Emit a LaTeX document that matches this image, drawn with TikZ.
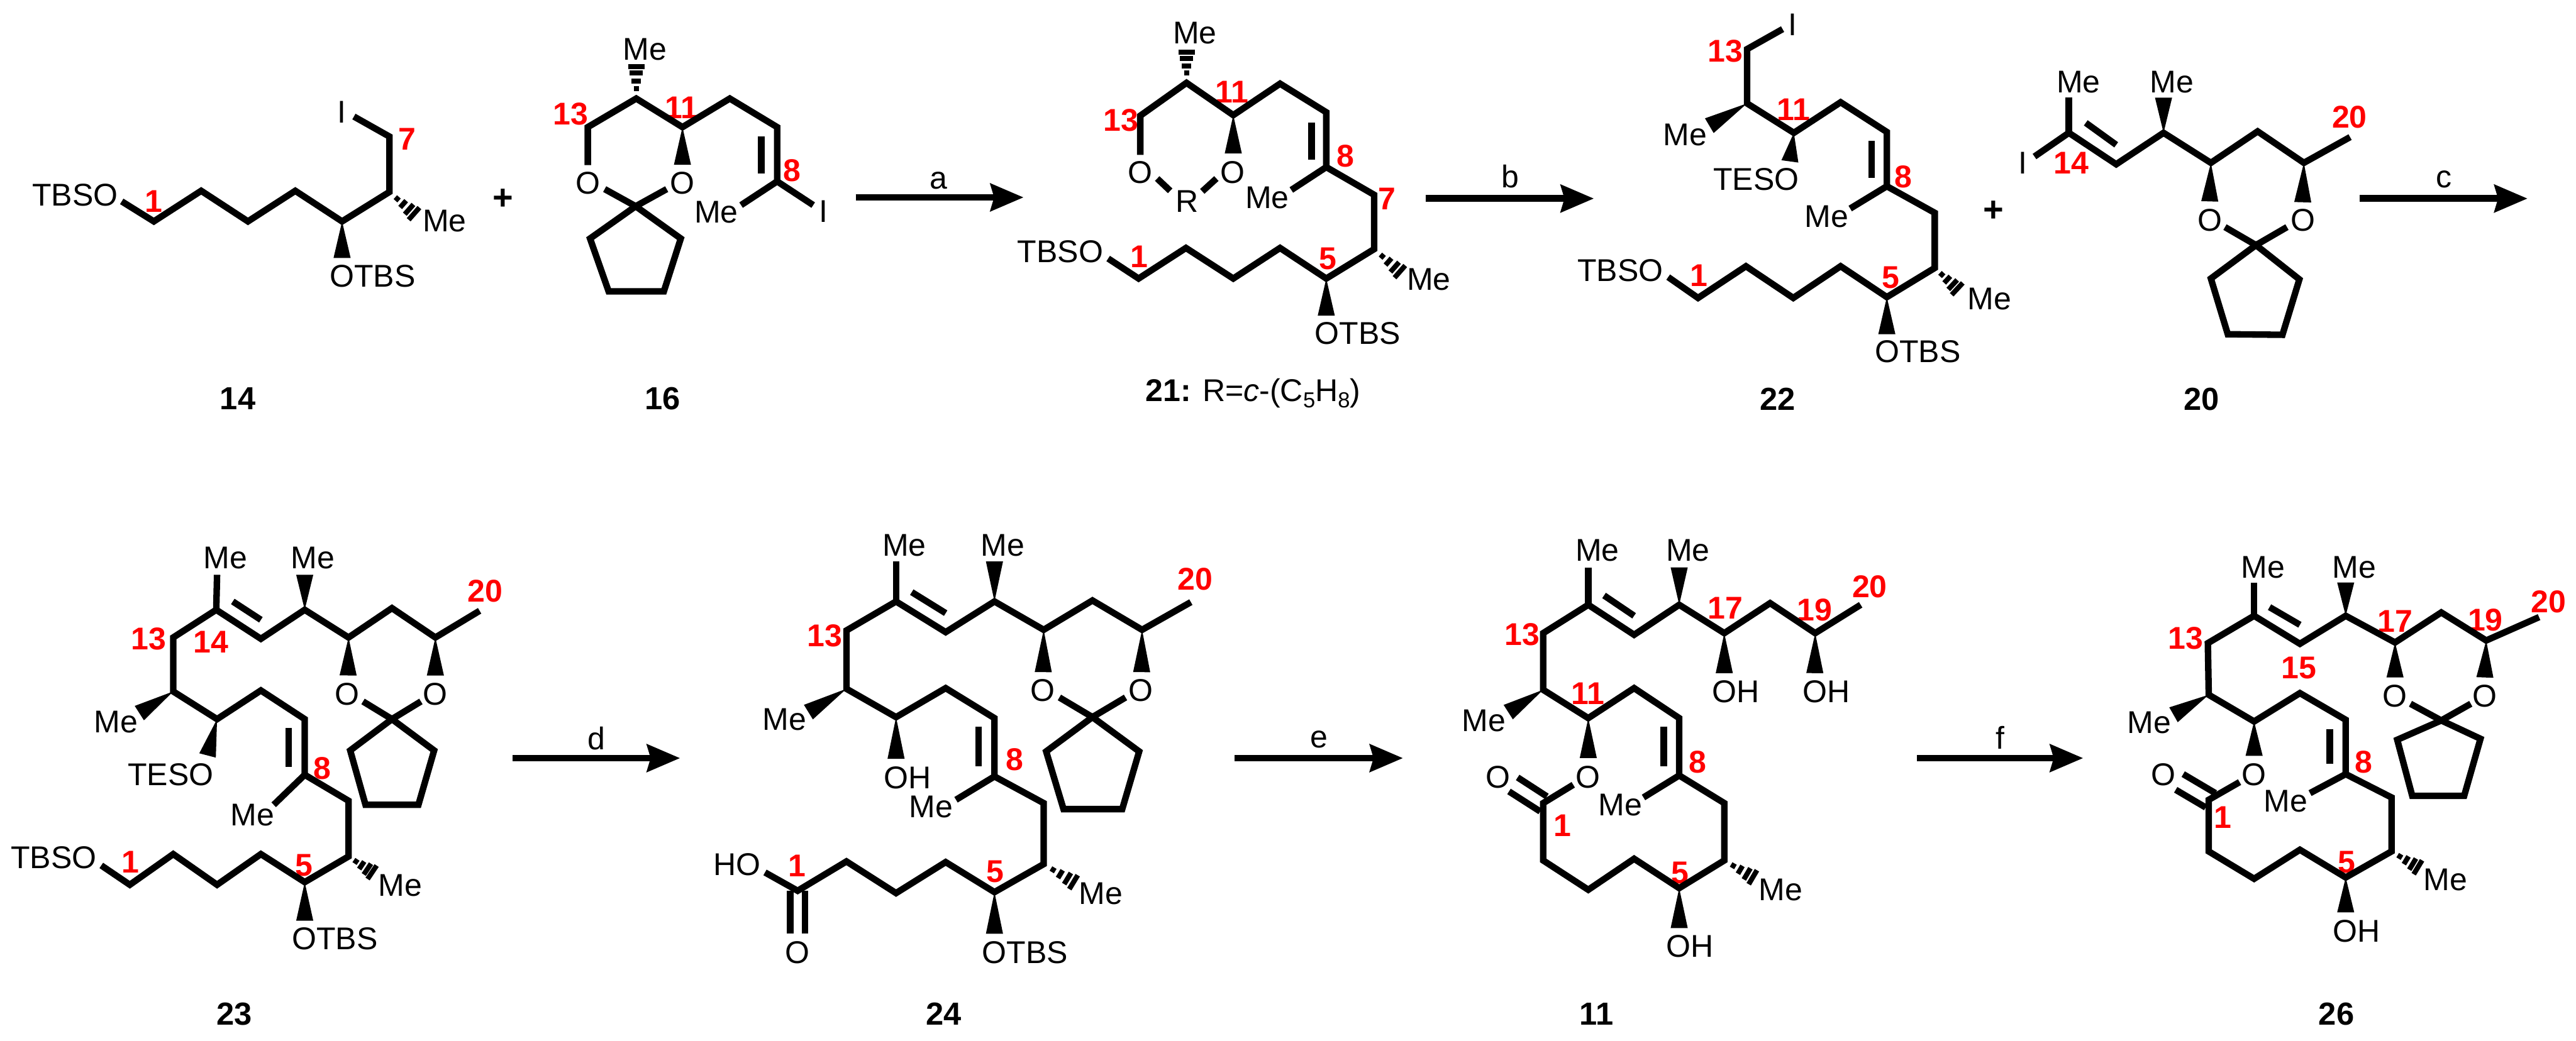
\documentclass[tikz,border=0pt]{standalone}
\usepackage{fontspec}
\setmainfont{Liberation Sans}
\usetikzlibrary{calc,arrows.meta}
\tikzset{
  crop/.style n args={4}{shift={(#1,-#2)},x=#3cm,y=-#4cm},
  bond/.style={line width=0.11cm,line join=miter,miter limit=10,draw=black},
  atom/.style={inner sep=0pt,outer sep=0pt,text height=0.385cm,text depth=0pt,font=\fontsize{15.2}{16}\selectfont},
  xh/.style={atom,text height=0.28cm},
  num/.style={atom,text=numred,font=\fontsize{15.2}{16}\selectfont\bfseries},
  cpd/.style={atom,font=\fontsize{15.4}{16}\selectfont\bfseries},
  rxn/.style={line width=0.115cm,-{Stealth[length=0.56cm,width=0.46cm,inset=0.06cm]}},
}
\definecolor{numred}{RGB}{255,0,0}
\newcommand\wdg[2]{\path (#1) coordinate (wa) (#2) coordinate (wb);
  \fill (wa) -- ($(wb)!0.145cm!90:(wa)$) -- ($(wb)!0.145cm!-90:(wa)$) -- cycle;}
\newcommand\hsh[2]{\path (#1) coordinate (wa) (#2) coordinate (wb);
  \foreach \t [evaluate=\t as \w using \t*0.145] in {0.3,0.53,0.76,0.95}{
    \path ($(wa)!\t!(wb)$) coordinate (wc);
    \draw[line width=0.085cm] ($(wc)!\w cm!90:(wb)$) -- ($(wc)!\w cm!-90:(wb)$);}}
\begin{document}
\begin{tikzpicture}
\useasboundingbox (0,0) rectangle (43.73,-17.68);
% ---------- top row, left
\begin{scope}[crop={0}{0}{0.0095663}{0.0048469}]
 \node[atom] (tbsoA) at (133,680) {TBSO};
 \node[atom] (iA) at (606,390) {I};
 \node[atom] (otbsA) at (661,965) {OTBS};
 \node[atom] (meA) at (789,772) {Me};
 \node[num] (n1A) at (273,703) {1};
 \node[num] (n7A) at (722,485) {7};
 \node[cpd] (c14) at (422,1395) {14};
 \node[cpd,font=\fontsize{17}{17}\selectfont\bfseries] (plusA) at (893,695) {+};
 \draw[bond] (216,705)--(273,775)--(357,668)--(440,775)--(524,668)--(607,775)--(691,672)--(691,478)--(628,408);
 \wdg{607,775}{607,903}
 \hsh{691,672}{737,752}
 % 16
 \node[atom] (meB1) at (1144,170) {Me};
 \node[atom] (oB1) at (1043,640) {O};
 \node[atom] (oB2) at (1211,640) {O};
 \node[atom] (meB2) at (1271,740) {Me};
 \node[atom] (iB) at (1461,738) {I};
 \node[num] (n13B) at (1013,398) {13};
 \node[num] (n11B) at (1210,375) {11};
 \node[num] (n8B) at (1405,595) {8};
 \node[cpd] (c16) at (1176,1395) {16};
 \draw[bond] (1043,578)--(1043,445)--(1129,345)--(1211,445)--(1295,345)--(1379,445)--(1379,635)--(1315,718);
 \draw[bond] (1379,635)--(1443,718);
 \draw[bond] (1351,478)--(1351,608);
 \wdg{1211,445}{1211,577}
 \hsh{1129,345}{1129,228}
 \draw[bond] (1073,662)--(1128,722)--(1183,662);
 \draw[bond] (1128,722)--(1047,835)--(1080,1020)--(1178,1020)--(1208,835)--cycle;
\end{scope}
% ---------- 21
\begin{scope}[crop={14}{0}{0.0095663}{0.0048469}]
 \coordinate (a1) at (55,691); \coordinate (a2) at (353,691);
 \draw[rxn] (a1)--(a2);
 \node[xh] (la) at (202,632) {a};
 \node[atom] (meC1) at (657,113) {Me};
 \node[atom] (oC1) at (560,602) {O};
 \node[atom] (oC2) at (724,602) {O};
 \node[atom] (rC) at (643,702) {R};
 \node[atom] (meC2) at (785,690) {Me};
 \node[atom] (tbsoC) at (418,878) {TBSO};
 \node[atom] (meC3) at (1072,975) {Me};
 \node[atom] (otbsC) at (946,1165) {OTBS};
 \node[num] (n13C) at (526,420) {13};
 \node[num] (n11C) at (723,320) {11};
 \node[num] (n8C) at (924,545) {8};
 \node[num] (n7C) at (998,695) {7};
 \node[num] (n1C) at (558,897) {1};
 \node[num] (n5C) at (893,903) {5};
 \node[atom] (c21) at (760,1365) {\textbf{21:} R=\textit{c}-(C\raisebox{-0.2em}{\fontsize{10.5}{11}\selectfont 5}H\raisebox{-0.2em}{\fontsize{10.5}{11}\selectfont 8})};
 \draw[bond] (560,542)--(560,405)--(642,290)--(725,403)--(808,293)--(890,393)--(890,585)--(828,665);
 \draw[bond] (890,585)--(975,682)--(975,872)--(890,975)--(808,868)--(725,975)--(641,868)--(557,975)--(503,905);
 \draw[bond] (864,430)--(864,558);
 \draw[bond] (590,625)--(613,668);
 \draw[bond] (695,625)--(670,670);
 \wdg{725,403}{725,537}
 \wdg{890,975}{890,1105}
 \hsh{642,290}{642,177}
 \hsh{975,872}{1023,955}
 \coordinate (b1) at (1067,695); \coordinate (b2) at (1365,695);
 \draw[rxn] (b1)--(b2);
 \node[atom] (lb) at (1217,618) {b};
\end{scope}
% ---------- 22 and 20
\begin{scope}[crop={28.73}{0}{0.0095663}{0.0048469}]
 \node[atom] (tbsoD) at (-128,945) {TBSO};
 \node[atom] (meD1) at (-13,470) {Me};
 \node[atom] (iD) at (178,85) {I};
 \node[atom] (tesoD) at (113,625) {TESO};
 \node[atom] (meD2) at (238,755) {Me};
 \node[atom] (meD3) at (527,1045) {Me};
 \node[atom] (otbsD) at (400,1230) {OTBS};
 \node[num] (n1D) at (12,962) {1};
 \node[num] (n13D) at (58,178) {13};
 \node[num] (n11D) at (180,382) {11};
 \node[num] (n8D) at (374,618) {8};
 \node[num] (n5D) at (352,970) {5};
 \node[cpd] (c22) at (151,1397) {22};
 \node[cpd,font=\fontsize{17}{17}\selectfont\bfseries] (plusD) at (534,737) {+};
 \draw[bond] (-43,970)--(10,1043)--(95,932)--(179,1043)--(263,932)--(345,1040)--(430,938)--(430,745)--(345,652)--(280,730);
 \draw[bond] (345,652)--(345,462)--(263,358)--(180,465)--(97,362)--(97,172)--(160,102);
 \draw[bond] (318,493)--(318,622);
 \wdg{180,465}{173,565}
 \wdg{97,362}{30,440}
 \wdg{345,1040}{345,1170}
 \hsh{430,938}{472,1015}
 % 20
 \node[atom] (iE) at (586,568) {I};
 \node[atom] (meE1) at (685,285) {Me};
 \node[atom] (meE2) at (851,285) {Me};
 \node[atom] (oE1) at (918,768) {O};
 \node[atom] (oE2) at (1083,768) {O};
 \node[num] (n14E) at (672,568) {14};
 \node[num] (n20E) at (1166,408) {20};
 \node[cpd] (c20) at (903,1397) {20};
 \draw[bond] (607,548)--(668,465)--(752,575)--(836,465)--(920,570)--(1003,460)--(1085,570)--(1167,480);
 \draw[bond] (698,430)--(752,507);
 \draw[bond] (668,465)--(668,342);
 \wdg{836,465}{836,342}
 \wdg{920,570}{918,705}
 \wdg{1085,570}{1083,708}
 \draw[bond] (945,795)--(1000,858)--(1055,795);
 \draw[bond] (1000,858)--(920,975)--(950,1170)--(1047,1172)--(1077,978)--cycle;
 \coordinate (c1) at (1184,695); \coordinate (c2) at (1482,695);
 \draw[rxn] (c1)--(c2);
 \node[xh] (lc) at (1333,628) {c};
\end{scope}
% ---------- 23
\begin{scope}[crop={0}{8.8}{0.0070153}{0.0056633}]
 \node[atom] (meF1) at (545,118) {Me};
 \node[atom] (meF2) at (757,118) {Me};
 \node[atom] (tbsoF) at (130,1017) {TBSO};
 \node[atom] (oF1) at (840,527) {O};
 \node[atom] (oF2) at (1052,527) {O};
 \node[atom] (meF3) at (280,610) {Me};
 \node[atom] (tesoF) at (413,768) {TESO};
 \node[atom] (meF4) at (611,888) {Me};
 \node[atom] (meF5) at (968,1100) {Me};
 \node[atom] (otbsF) at (810,1260) {OTBS};
 \node[num] (n20F) at (1173,217) {20};
 \node[num] (n13F) at (359,360) {13};
 \node[num] (n14F) at (510,370) {14};
 \node[num] (n8F) at (780,750) {8};
 \node[num] (n1F) at (316,1030) {1};
 \node[num] (n5F) at (736,1040) {5};
 \node[cpd] (c23) at (567,1487) {23};
 \draw[bond] (245,1042)--(314,1100)--(419,1008)--(525,1100)--(631,1008)--(737,1092)--(843,1015)--(843,848)--(737,770)--(662,860);
 \draw[bond] (737,770)--(737,603)--(631,517)--(525,603)--(419,520)--(419,358)--(523,275)--(631,362)--(737,275)--(843,358)--(948,270)--(1053,358)--(1160,278);
 \draw[bond] (523,275)--(525,170);
 \draw[bond] (563,250)--(631,305);
 \draw[bond] (698,630)--(698,747);
 \wdg{737,275}{737,170}
 \wdg{843,358}{842,472}
 \wdg{1053,358}{1053,472}
 \draw[bond] (878,550)--(948,603)--(1018,550);
 \draw[bond] (948,603)--(847,697)--(884,860)--(1012,860)--(1050,697)--cycle;
 \wdg{419,520}{337,585}
 \wdg{525,603}{502,712}
 \wdg{737,1092}{737,1208}
 \hsh{843,1015}{903,1065}
 \coordinate (d1) at (1240,720); \coordinate (d2) at (1645,720);
 \draw[rxn] (d1)--(d2);
 \node[atom] (ld) at (1442,660) {d};
\end{scope}
% ---------- 24
\begin{scope}[crop={11}{8.8}{0.0070153}{0.0056633}]
 \node[atom] (meG1) at (620,80) {Me};
 \node[atom] (meG2) at (858,80) {Me};
 \node[atom] (hoG) at (215,1038) {HO};
 \node[atom] (oG3) at (361,1302) {O};
 \node[atom] (oG1) at (955,515) {O};
 \node[atom] (oG2) at (1192,515) {O};
 \node[atom] (ohG) at (628,778) {OH};
 \node[atom] (meG3) at (330,603) {Me};
 \node[atom] (meG4) at (685,865) {Me};
 \node[atom] (meG5) at (1095,1125) {Me};
 \node[atom] (otbsG) at (912,1302) {OTBS};
 \node[num] (n20G) at (1323,182) {20};
 \node[num] (n13G) at (427,352) {13};
 \node[num] (n8G) at (887,722) {8};
 \node[num] (n1G) at (360,1042) {1};
 \node[num] (n5G) at (840,1058) {5};
 \node[cpd] (c24) at (715,1487) {24};
 \draw[bond] (283,1063)--(362,1118)--(480,1030)--(600,1125)--(720,1032)--(838,1122)--(957,1038)--(957,855)--(838,775)--(745,845);
 \draw[bond] (838,775)--(838,600)--(720,510)--(600,597)--(480,512)--(480,337)--(600,250)--(720,342)--(838,250)--(957,335)--(1075,247)--(1195,335)--(1313,252);
 \draw[bond] (600,250)--(600,130);
 \draw[bond] (638,222)--(720,285);
 \draw[bond] (800,625)--(800,745);
 \draw[bond] (344,1118)--(344,1247);
 \draw[bond] (380,1118)--(380,1247);
 \wdg{838,250}{838,130}
 \wdg{957,335}{956,462}
 \wdg{1195,335}{1194,462}
 \draw[bond] (995,538)--(1075,597)--(1155,538);
 \draw[bond] (1075,597)--(963,700)--(1005,873)--(1147,873)--(1188,700)--cycle;
 \wdg{480,512}{388,582}
 \wdg{600,597}{600,722}
 \wdg{838,1122}{838,1247}
 \hsh{957,1038}{1033,1095}
\end{scope}
% ---------- 11
\begin{scope}[crop={22}{8.8}{0.0063776}{0.0056633}]
 \coordinate (e1) at (-163,720); \coordinate (e2) at (285,720);
 \draw[rxn] (e1)--(e2);
 \node[xh] (le) at (62,665) {e};
 \node[atom] (meH1) at (802,95) {Me};
 \node[atom] (meH2) at (1043,95) {Me};
 \node[atom] (oH1) at (537,775) {O};
 \node[atom] (oH2) at (777,775) {O};
 \node[atom] (ohH1) at (1170,520) {OH};
 \node[atom] (ohH2) at (1411,520) {OH};
 \node[atom] (ohH3) at (1048,1283) {OH};
 \node[atom] (meH3) at (1290,1113) {Me};
 \node[atom] (meH4) at (500,605) {Me};
 \node[atom] (meH5) at (863,858) {Me};
 \node[num] (n13H) at (602,348) {13};
 \node[num] (n17H) at (1143,268) {17};
 \node[num] (n19H) at (1380,273) {19};
 \node[num] (n20H) at (1527,205) {20};
 \node[num] (n11H) at (777,525) {11};
 \node[num] (n8H) at (1070,730) {8};
 \node[num] (n1H) at (710,920) {1};
 \node[num] (n5H) at (1023,1062) {5};
 \node[cpd] (c11) at (800,1487) {11};
 \draw[bond] (738,800)--(658,855)--(658,1027)--(778,1115)--(900,1022)--(1020,1110)--(1140,1027)--(1140,855)--(1020,772)--(925,838);
 \draw[bond] (1020,772)--(1020,600)--(900,510)--(778,600)--(658,515)--(658,345)--(778,260)--(900,350)--(1020,260)--(1140,345)--(1262,255)--(1382,345)--(1503,260);
 \draw[bond] (778,260)--(778,148);
 \draw[bond] (820,232)--(900,293);
 \draw[bond] (979,625)--(979,745);
 \draw[bond] (590,778)--(668,835);
 \draw[bond] (567,820)--(650,880);
 \wdg{1020,260}{1020,148}
 \wdg{1140,345}{1140,465}
 \wdg{1382,345}{1381,465}
 \wdg{658,515}{565,582}
 \wdg{778,600}{778,720}
 \wdg{1020,1110}{1020,1230}
 \hsh{1140,1027}{1220,1080}
\end{scope}
% ---------- 26
\begin{scope}[crop={32}{8.8}{0.0074809}{0.0056633}]
 \coordinate (f1) at (72,720); \coordinate (f2) at (450,720);
 \draw[rxn] (f1)--(f2);
 \node[atom] (lf) at (262,658) {f};
 \node[atom] (meJ1) at (858,145) {Me};
 \node[atom] (meJ2) at (1065,145) {Me};
 \node[atom] (oJ1) at (632,768) {O};
 \node[atom] (oJ2) at (838,768) {O};
 \node[atom] (oJ3) at (1157,533) {O};
 \node[atom] (oJ4) at (1362,533) {O};
 \node[atom] (ohJ) at (1070,1238) {OH};
 \node[atom] (meJ3) at (1272,1083) {Me};
 \node[atom] (meJ4) at (600,612) {Me};
 \node[atom] (meJ5) at (910,847) {Me};
 \node[num] (n13J) at (683,358) {13};
 \node[num] (n15J) at (940,447) {15};
 \node[num] (n17J) at (1158,308) {17};
 \node[num] (n19J) at (1363,305) {19};
 \node[num] (n20J) at (1507,250) {20};
 \node[num] (n8J) at (1087,730) {8};
 \node[num] (n1J) at (767,897) {1};
 \node[num] (n5J) at (1048,1030) {5};
 \node[cpd] (c26) at (1025,1487) {26};
 \draw[bond] (805,792)--(735,845)--(735,1000)--(838,1082)--(942,995)--(1046,1078)--(1150,1000)--(1150,838)--(1046,768)--(965,825);
 \draw[bond] (1046,768)--(1046,605)--(942,525)--(838,610)--(735,530)--(733,375)--(838,293)--(942,377)--(1046,293)--(1158,373)--(1263,283)--(1365,367)--(1485,297);
 \draw[bond] (838,293)--(838,193);
 \draw[bond] (873,267)--(942,320);
 \draw[bond] (1010,633)--(1010,737);
 \draw[bond] (677,768)--(750,825);
 \draw[bond] (660,815)--(728,868);
 \wdg{1046,293}{1046,193}
 \wdg{1158,373}{1158,478}
 \wdg{1365,367}{1362,478}
 \draw[bond] (1193,557)--(1263,607)--(1330,557);
 \draw[bond] (1263,607)--(1163,665)--(1197,833)--(1315,833)--(1352,662)--cycle;
 \wdg{735,530}{655,590}
 \wdg{838,610}{838,713}
 \wdg{1046,1078}{1046,1183}
 \hsh{1150,1000}{1213,1050}
\end{scope}
\end{tikzpicture}
\end{document}
